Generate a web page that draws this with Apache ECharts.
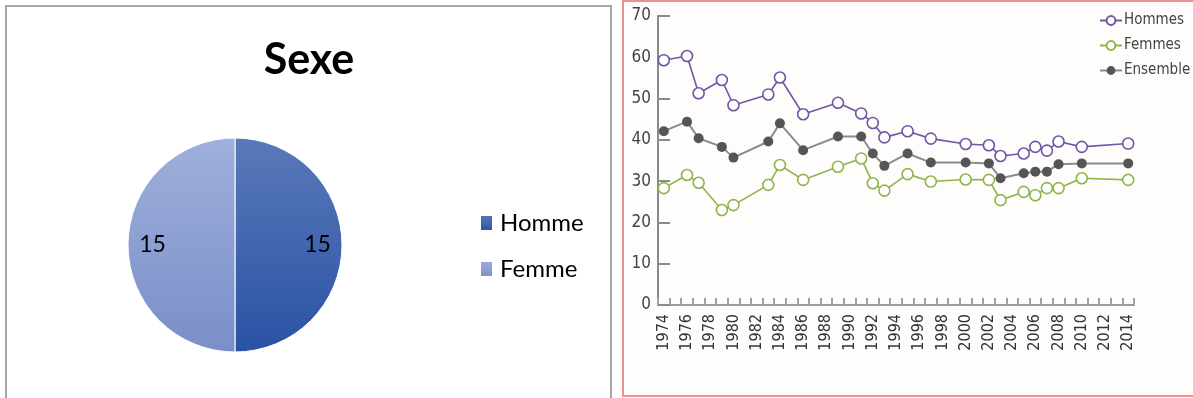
<!DOCTYPE html>
<html>
<head>
<meta charset="utf-8">
<script src="https://cdn.jsdelivr.net/npm/echarts@6/dist/echarts.min.js"></script>
<style>
  html, body { margin: 0; padding: 0; background: #ffffff; }
  #chart { width: 1193px; height: 398px; }
</style>
</head>
<body>
<div id="chart"></div>
<script>
// ---- Pie data ----
const pieTitle = 'Sexe';
const pieNames = ['Homme', 'Femme'];
const pieValues = [15, 15];

// ---- Line chart data ----
const yearLabels = ['1974','1975','1976','1977','1978','1979','1980','1981','1982','1983','1984','1985','1986','1987','1988','1989','1990','1991','1992','1993','1994','1995','1996','1997','1998','1999','2000','2001','2002','2003','2004','2005','2006','2007','2008','2009','2010','2011','2012','2013','2014'];
const obsYears = ['1974','1976','1977','1979','1980','1983','1984','1986','1989','1991','1992','1993','1995','1997','2000','2002','2003','2005','2006','2007','2008','2010','2014'];
const hommes   = [59.3,60.3,51.3,54.5,48.4,51.0,55.1,46.2,49.0,46.4,44.1,40.6,42.1,40.3,39.0,38.7,36.1,36.7,38.3,37.4,39.6,38.3,39.1];
const femmes   = [28.3,31.5,29.6,23.0,24.2,29.1,33.9,30.3,33.5,35.5,29.5,27.7,31.7,29.9,30.4,30.3,25.4,27.4,26.6,28.3,28.3,30.7,30.3];
const ensemble = [42.1,44.4,40.4,38.3,35.7,39.6,44.0,37.5,40.8,40.8,36.7,33.7,36.7,34.5,34.5,34.3,30.7,31.9,32.3,32.3,34.1,34.3,34.3];
const seriesNames = ['Hommes', 'Femmes', 'Ensemble'];

const condensed = "'Liberation Sans Narrow', 'DejaVu Sans Condensed', 'Roboto', sans-serif";
const excelFont = "Lato, 'Open Sans', sans-serif";

const pair = (vals) => obsYears.map((y, i) => [y, vals[i]]);

const hommeColor = new echarts.graphic.LinearGradient(0, 0, 0, 1, [
  { offset: 0, color: '#5a79ba' }, { offset: 1, color: '#2a52a4' }
]);
const femmeColor = new echarts.graphic.LinearGradient(0, 0, 0, 1, [
  { offset: 0, color: '#9fb0dc' }, { offset: 1, color: '#7a8ec8' }
]);
const pieColors = [hommeColor, femmeColor];

const chart = echarts.init(document.getElementById('chart'), null, { renderer: 'canvas' });

chart.setOption({
  animation: false,
  backgroundColor: '#ffffff',
  graphic: [
    { type: 'rect', z: -10, shape: { x: 6, y: 6, width: 605, height: 400 },
      style: { fill: '#ffffff', stroke: '#a6a6a6', lineWidth: 2 } },
    { type: 'rect', z: -10, shape: { x: 623, y: 1, width: 580, height: 395 },
      style: { fill: '#fefdfb', stroke: '#ee8f95', lineWidth: 2 } }
  ],
  title: {
    text: pieTitle,
    left: 304, top: 34, textAlign: 'center',
    textStyle: { fontFamily: excelFont, fontWeight: 'bold', fontSize: 43, color: '#000' }
  },
  legend: [
    {
      data: pieNames,
      orient: 'vertical', left: 474, top: 206,
      icon: 'rect', itemWidth: 13, itemHeight: 16, itemGap: 22,
      textStyle: { fontFamily: excelFont, fontSize: 24, color: '#000', padding: [0, 0, 0, 2] }
    },
    {
      data: seriesNames,
      orient: 'vertical', left: 1094, top: 8,
      itemWidth: 22, itemHeight: 11, itemGap: 10,
      textStyle: { fontFamily: condensed, fontSize: 15, color: '#444', padding: [0, 0, 0, -3] }
    }
  ],
  grid: { left: 658, right: 59, top: 16, bottom: 93 },
  xAxis: {
    type: 'category',
    data: yearLabels,
    boundaryGap: true,
    axisLine: { lineStyle: { color: '#9a9a9a', width: 2 } },
    axisTick: { show: true, inside: true, length: 7, interval: 0, lineStyle: { color: '#a0a0a0', width: 2 } },
    axisLabel: { rotate: 90, interval: 1, fontFamily: condensed, fontSize: 16, color: '#333', margin: 9 },
    splitLine: { show: false }
  },
  yAxis: {
    type: 'value',
    min: 0, max: 70, interval: 10,
    axisLine: { show: true, lineStyle: { color: '#8a8a8a', width: 2 } },
    axisTick: { show: true, inside: true, length: 12, lineStyle: { color: '#8a8a8a', width: 2 } },
    axisLabel: { fontFamily: condensed, fontSize: 17, color: '#444', margin: 7 },
    splitLine: { show: false }
  },
  series: [
    {
      type: 'pie', name: 'Sexe',
      center: [235, 245], radius: 107,
      startAngle: 90, clockwise: true,
      data: pieNames.map((n, i) => ({ name: n, value: pieValues[i], itemStyle: { color: pieColors[i] } })),
      itemStyle: { borderColor: '#ffffff', borderWidth: 1 },
      label: { show: false }, labelLine: { show: false },
      emphasis: { disabled: true }
    },
    {
      type: 'pie', name: 'SexeLabels', silent: true,
      center: [235, 245], radius: [52, 107],
      startAngle: 90, clockwise: true,
      data: pieNames.map((n, i) => ({ name: n, value: pieValues[i] })),
      itemStyle: { color: 'rgba(0,0,0,0)' },
      label: { show: true, position: 'inside', formatter: '{c}', fontFamily: excelFont, fontSize: 23, color: '#000' },
      labelLine: { show: false },
      emphasis: { disabled: true }
    },
    {
      type: 'line', name: 'Hommes', data: pair(hommes),
      symbol: 'circle', symbolSize: 11, showAllSymbol: true,
      lineStyle: { color: '#6d58a6', width: 1.6 },
      itemStyle: { color: '#ffffff', borderColor: '#6d58a6', borderWidth: 1.6 },
      emphasis: { disabled: true }
    },
    {
      type: 'line', name: 'Femmes', data: pair(femmes),
      symbol: 'circle', symbolSize: 11, showAllSymbol: true,
      lineStyle: { color: '#8fb44e', width: 1.6 },
      itemStyle: { color: '#ffffff', borderColor: '#8fb44e', borderWidth: 1.6 },
      emphasis: { disabled: true }
    },
    {
      type: 'line', name: 'Ensemble', data: pair(ensemble),
      symbol: 'circle', symbolSize: 10, showAllSymbol: true,
      lineStyle: { color: '#8c8c8c', width: 2 },
      itemStyle: { color: '#555555', borderColor: '#555555', borderWidth: 0 },
      emphasis: { disabled: true }
    }
  ]
});
</script>
</body>
</html>
